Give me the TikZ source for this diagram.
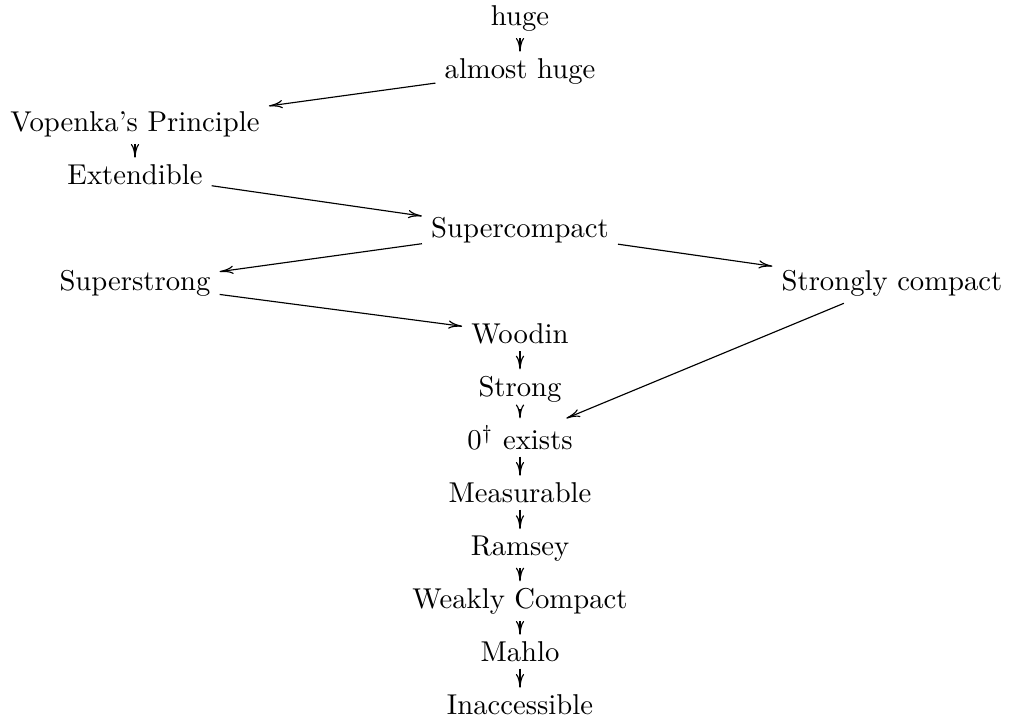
\documentclass[tikz,border=0pt]{standalone}
\usetikzlibrary{arrows.meta}
\begin{document}
\begin{tikzpicture}[x=0.3488pt,y=-0.3488pt,
  lbl/.style={anchor=base,inner xsep=3pt,inner ysep=2.2pt,font=\normalsize},
  imp/.style={-{To[length=4.8pt,width=2.9pt]},line width=0.4pt}]
\useasboundingbox (0,0) rectangle (1011,722);
\node[lbl] (huge) at (520,{25.5+53*0}) {huge};
\node[lbl] (ahuge) at (520,{25.5+53*1}) {almost huge};
\node[lbl] (vp) at (135,{25.5+53*2}) {Vopenka's Principle};
\node[lbl] (ext) at (135,{25.5+53*3}) {Extendible};
\node[lbl] (sc) at (520,{25.5+53*4}) {Supercompact};
\node[lbl] (ss) at (135,{25.5+53*5}) {Superstrong};
\node[lbl] (stc) at (892,{25.5+53*5}) {Strongly compact};
\node[lbl] (wd) at (520,{25.5+53*6}) {Woodin};
\node[lbl] (st) at (520,{25.5+53*7}) {Strong};
\node[lbl] (zd) at (520,{25.5+53*8}) {$0^\dagger$ exists};
\node[lbl] (ms) at (520,{25.5+53*9}) {Measurable};
\node[lbl] (rm) at (520,{25.5+53*10}) {Ramsey};
\node[lbl] (wc) at (520,{25.5+53*11}) {Weakly Compact};
\node[lbl] (mh) at (520,{25.5+53*12}) {Mahlo};
\node[lbl] (ia) at (520,{25.5+53*13}) {Inaccessible};
\draw[imp] (huge) -- (ahuge);
\draw[imp] (ahuge) -- (vp);
\draw[imp] (vp) -- (ext);
\draw[imp] (ext) -- (sc);
\draw[imp] (sc) -- (ss);
\draw[imp] (sc) -- (stc);
\draw[imp] (ss) -- (wd);
\draw[imp] (wd) -- (st);
\draw[imp] (st) -- (zd);
\draw[imp] (stc) -- (zd);
\draw[imp] (zd) -- (ms);
\draw[imp] (ms) -- (rm);
\draw[imp] (rm) -- (wc);
\draw[imp] (wc) -- (mh);
\draw[imp] (mh) -- (ia);
\end{tikzpicture}
\end{document}
